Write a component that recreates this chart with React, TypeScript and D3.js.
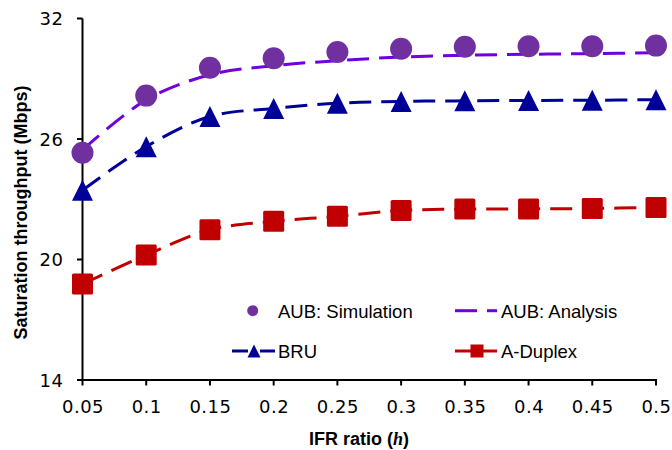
import React from "react";
import * as d3 from "d3";

const ratios = [0.05, 0.1, 0.15, 0.2, 0.25, 0.3, 0.35, 0.4, 0.45, 0.5];
const aubSimulation = [25.32, 28.16, 29.55, 30.02, 30.33, 30.49, 30.59, 30.62, 30.62, 30.65];
const aubAnalysis = [25.45, 27.95, 29.2, 29.65, 29.9, 30.08, 30.17, 30.22, 30.25, 30.29];
const bru = [23.45, 25.62, 27.12, 27.52, 27.78, 27.87, 27.9, 27.92, 27.93, 27.96];
const aDuplex = [18.78, 20.22, 21.48, 21.9, 22.15, 22.44, 22.51, 22.52, 22.54, 22.59];
const xTicks = [0.05, 0.1, 0.15, 0.2, 0.25, 0.3, 0.35, 0.4, 0.45, 0.5];
const yTicks = [14, 20, 26, 32];

const PURPLE = "#7030A0";
const VIOLET = "#7000DD";
const NAVY = "#000099";
const RED = "#C00000";

export default function App() {
  const x = d3.scaleLinear().domain([0.05, 0.5]).range([82.5, 656]);
  const y = d3.scaleLinear().domain([14, 32]).range([380, 18.5]);
  const line = d3
    .line<number>()
    .x((_, i) => x(ratios[i]))
    .y((d) => y(d))
    .curve(d3.curveCatmullRom.alpha(0.5));
  const dash = "22 10";
  const tickFont = "'DejaVu Sans', Verdana, sans-serif";
  const arial = "'Liberation Sans', Arial, sans-serif";

  const tri = (cx: number, cy: number, s: number) =>
    `M${cx},${cy - s / 2}L${cx + s / 2},${cy + s / 2}L${cx - s / 2},${cy + s / 2}Z`;

  return (
    <svg width={672} height={450} style={{ position: "absolute", left: 0, top: 0, background: "#fff" }}>
      {/* lines */}
      <path d={line(aubAnalysis) || ""} fill="none" stroke={VIOLET} strokeWidth={3} strokeDasharray={dash} />
      <path d={line(bru) || ""} fill="none" stroke={NAVY} strokeWidth={3} strokeDasharray={dash} />
      <path d={line(aDuplex) || ""} fill="none" stroke={RED} strokeWidth={3} strokeDasharray={dash} />
      {/* axes */}
      <line x1={82.5} x2={82.5} y1={y(32)} y2={y(14)} stroke="#000" strokeWidth={2} />
      <line x1={82.5} x2={657} y1={380} y2={380} stroke="#000" strokeWidth={2} />
      {yTicks.map((t) => (
        <g key={"y" + t}>
          <line x1={77} x2={82.5} y1={y(t)} y2={y(t)} stroke="#000" strokeWidth={2} />
          <text x={63.5} y={y(t) + 6.7} textAnchor="end" fontFamily={tickFont} fontSize={18} letterSpacing={0.5} fill="#000">
            {t}
          </text>
        </g>
      ))}
      {xTicks.map((t) => (
        <g key={"x" + t}>
          <line x1={x(t)} x2={x(t)} y1={380} y2={385.5} stroke="#000" strokeWidth={2} />
          <text x={x(t) + 0.5} y={413} textAnchor="middle" fontFamily={tickFont} fontSize={18} letterSpacing={0.5} fill="#000">
            {String(t)}
          </text>
        </g>
      ))}
      {/* markers */}
      {aubSimulation.map((v, i) => (
        <circle key={"c" + i} cx={x(ratios[i])} cy={y(v)} r={11} fill={PURPLE} />
      ))}
      {bru.map((v, i) => (
        <path key={"t" + i} d={tri(x(ratios[i]), y(v), 21)} fill={NAVY} />
      ))}
      {aDuplex.map((v, i) => (
        <rect key={"s" + i} x={x(ratios[i]) - 10.5} y={y(v) - 10.5} width={21} height={21} rx={1.5} fill={RED} />
      ))}
      {/* titles */}
      <text
        transform="translate(26.5,212.5) rotate(-90)"
        textAnchor="middle"
        fontFamily={arial}
        fontWeight="bold"
        fontSize={18}
        fill="#000"
      >
        Saturation throughput (Mbps)
      </text>
      <text x={359} y={445} textAnchor="middle" fontFamily={arial} fontWeight="bold" fontSize={18} fill="#000">
        IFR ratio (<tspan fontFamily="'Liberation Serif', serif" fontStyle="italic">h</tspan>)
      </text>
      {/* legend */}
      <circle cx={252.7} cy={310.7} r={5.5} fill={PURPLE} />
      <text x={278} y={317.5} fontFamily={arial} fontSize={18.5} fill="#000">AUB: Simulation</text>
      <line x1={455} x2={477} y1={310.7} y2={310.7} stroke={VIOLET} strokeWidth={3} />
      <line x1={487} x2={497} y1={310.7} y2={310.7} stroke={VIOLET} strokeWidth={3} />
      <text x={501} y={317.5} fontFamily={arial} fontSize={18.5} fill="#000">AUB: Analysis</text>
      <line x1={232} x2={248} y1={351} y2={351} stroke={NAVY} strokeWidth={3} />
      <line x1={260} x2={275} y1={351} y2={351} stroke={NAVY} strokeWidth={3} />
      <path d={tri(254, 351, 13)} fill={NAVY} />
      <text x={278} y={358} fontFamily={arial} fontSize={18.5} fill="#000">BRU</text>
      <line x1={455} x2={471} y1={351} y2={351} stroke={RED} strokeWidth={3} />
      <line x1={483} x2={497} y1={351} y2={351} stroke={RED} strokeWidth={3} />
      <rect x={470.5} y={344.5} width={13} height={13} fill={RED} />
      <text x={501} y={358} fontFamily={arial} fontSize={18.5} fill="#000">A-Duplex</text>
    </svg>
  );
}
